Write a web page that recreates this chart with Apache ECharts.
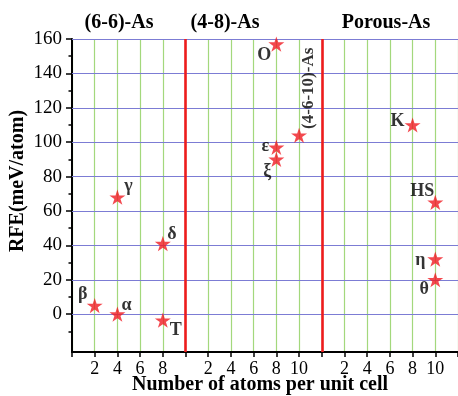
<!DOCTYPE html>
<html>
<head>
<meta charset="utf-8">
<script src="https://cdn.jsdelivr.net/npm/echarts@6/dist/echarts.min.js"></script>
<style>
  html, body { margin: 0; padding: 0; background: #ffffff; }
  #chart { width: 458px; height: 396px; }
</style>
</head>
<body>
<div id="chart"></div>
<script>
// Structure families, each laid out on its own stretch of the shared x scale
const familyNames = ['(6-6)-As', '(4-8)-As', 'Porous-As'];
const familyOffsets = [0, 10, 22];     // where each family's "0 atoms" sits
const familyBreaks = [10, 22];         // red separators between families

// Allotropes: family index, atoms per unit cell, relative formation energy
const structNames = ['β', 'α', 'γ', 'δ', 'T', 'O', 'ε', 'ξ', '(4-6-10)-As', 'K', 'HS', 'η', 'θ'];
const structFamily = [0, 0, 0, 0, 0, 1, 1, 1, 1, 2, 2, 2, 2];
const atomsPerCell = [2, 4, 4, 8, 8, 8, 8, 8, 10, 8, 10, 10, 10];
const rfeValues = [5, 0, 68, 41, -3.5, 157, 97, 90, 104, 110, 65, 32, 20];

// Axis ticks
const yMajorTicks = [0, 20, 40, 60, 80, 100, 120, 140, 160];
const yMinorTicks = [-10, 10, 30, 50, 70, 90, 110, 130, 150];
const xTickLabels = [['2', '4', '6', '8'], ['2', '4', '6', '8', '10'], ['2', '4', '6', '8', '10']];

// Label placement around each star (rotated labels use the rotated frame)
const labelOffsets = {
  'β': [-12, -11], 'α': [9, -9], 'γ': [11, -11], 'δ': [9, -9], 'T': [13, 10],
  'O': [-12, 11], 'ε': [-11, -1], 'ξ': [-9, 12], '(4-6-10)-As': [47, 10],
  'K': [-15, -4], 'HS': [-13, -11], 'η': [-15, 1], 'θ': [-11, 10]
};

const SERIF = '"Liberation Serif", "Times New Roman", serif';
const STAR = 'path://M50,0 L61.2,34.5 L97.6,34.5 L68.2,55.9 L79.4,90.5 L50,69.1 L20.6,90.5 L31.8,55.9 L2.4,34.5 L38.8,34.5 Z';

const points = structNames.map((name, i) => {
  const x = familyOffsets[structFamily[i]] + atomsPerCell[i];
  const item = {
    name: name,
    value: [x, rfeValues[i]],
    label: { offset: labelOffsets[name] }
  };
  if (name.length > 2) {
    item.label.rotate = 90;
    item.label.fontSize = 17;
  }
  return item;
});

function xLabel(v) {
  for (let f = familyOffsets.length - 1; f >= 0; f--) {
    if (v > familyOffsets[f]) {
      const local = v - familyOffsets[f];
      return xTickLabels[f].indexOf(String(local)) >= 0 ? String(local) : '';
    }
  }
  return '';
}

const chart = echarts.init(document.getElementById('chart'), null, { renderer: 'canvas' });

chart.setOption({
  animation: false,
  backgroundColor: '#ffffff',
  grid: { left: 72, right: 0, top: 39, bottom: 44, outerBoundsMode: 'none', containLabel: false },
  xAxis: {
    type: 'value',
    min: 0,
    max: 34,
    interval: 2,
    name: 'Number of atoms per unit cell',
    nameLocation: 'middle',
    nameGap: 23,
    nameMoveOverlap: false,
    nameTextStyle: { fontFamily: SERIF, fontWeight: 'bold', fontSize: 20, color: '#000', padding: [0, 10, 0, 0] },
    axisLine: { onZero: false, lineStyle: { color: '#000', width: 2 } },
    axisTick: { length: 5, lineStyle: { color: '#000', width: 1.5 } },
    axisLabel: {
      formatter: xLabel,
      fontFamily: SERIF, fontSize: 18, color: '#000', margin: 8
    },
    splitLine: { show: true, lineStyle: { color: '#a3d87c', width: 1.2 } }
  },
  yAxis: [
    {
      type: 'value',
      min: -22,
      max: 160,
      position: 'left',
      axisLine: { onZero: false, lineStyle: { color: '#000', width: 2 } },
      axisTick: { customValues: yMajorTicks, length: 6, lineStyle: { color: '#000', width: 1.5 } },
      axisLabel: { customValues: yMajorTicks, fontFamily: SERIF, fontSize: 19, color: '#000', margin: 10 },
      splitLine: { show: false }
    },
    {
      type: 'value',
      min: -22,
      max: 160,
      position: 'left',
      offset: 0,
      axisLine: { show: false },
      axisTick: { customValues: yMinorTicks, length: 3.5, lineStyle: { color: '#000', width: 1.5 } },
      axisLabel: { show: false },
      splitLine: { show: false }
    }
  ],
  graphic: [
    {
      type: 'text', x: 18, y: 181, rotation: Math.PI / 2,
      style: { text: 'RFE(meV/atom)', font: 'bold 20px ' + SERIF, fill: '#000', align: 'center', verticalAlign: 'middle' }
    },
    {
      type: 'text', x: 119, y: 23,
      style: { text: familyNames[0], font: 'bold 20px ' + SERIF, fill: '#000', align: 'center', verticalAlign: 'middle' }
    },
    {
      type: 'text', x: 225, y: 23,
      style: { text: familyNames[1], font: 'bold 20px ' + SERIF, fill: '#000', align: 'center', verticalAlign: 'middle' }
    },
    {
      type: 'text', x: 386, y: 23,
      style: { text: familyNames[2], font: 'bold 20px ' + SERIF, fill: '#000', align: 'center', verticalAlign: 'middle' }
    }
  ],
  series: [
    {
      // horizontal grid and family separators
      type: 'scatter',
      data: [],
      z: 1,
      silent: true,
      markLine: {
        silent: true,
        symbol: 'none',
        label: { show: false },
        animation: false,
        data: yMajorTicks.map(v => ({ yAxis: v, lineStyle: { color: '#7c7cd4', width: 1.2, type: 'solid' } }))
          .concat(familyBreaks.map(v => ({ xAxis: v, lineStyle: { color: '#ee1c1c', width: 2.6, type: 'solid' } })))
      }
    },
    {
      type: 'scatter',
      z: 5,
      symbol: STAR,
      symbolKeepAspect: true,
      symbolSize: 16,
      itemStyle: { color: '#f01a22' },
      label: {
        show: true,
        position: 'inside',
        formatter: p => p.name,
        fontFamily: SERIF,
        fontWeight: 'bold',
        fontSize: 18,
        color: '#000',
        align: 'center',
        verticalAlign: 'middle'
      },
      data: points
    }
  ]
});
</script>
</body>
</html>
